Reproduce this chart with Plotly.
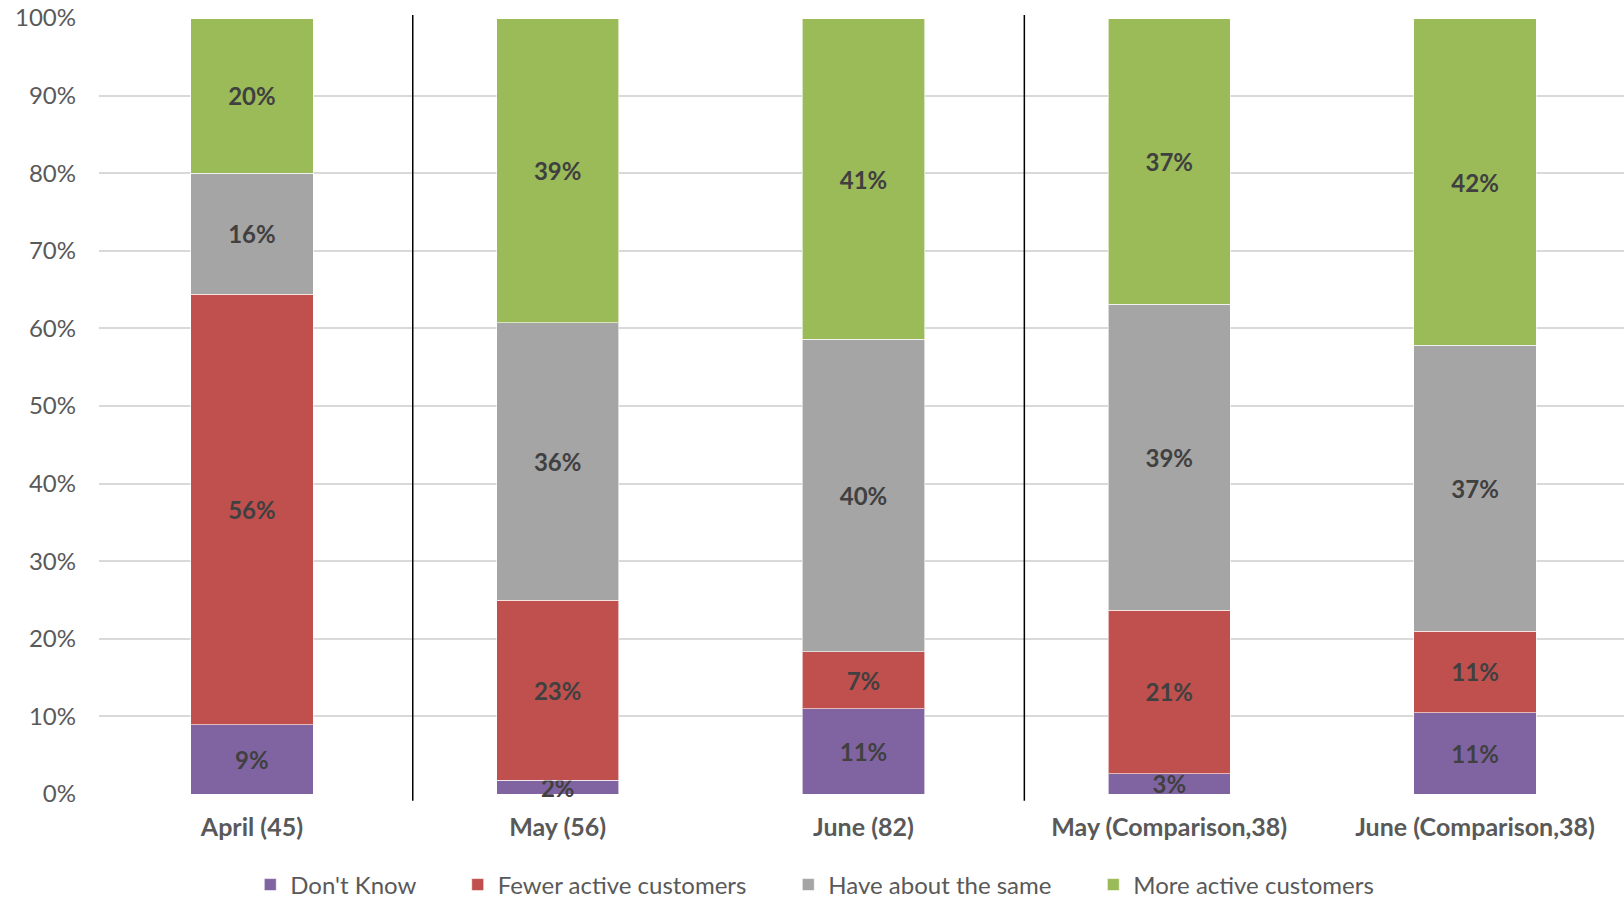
import plotly.graph_objects as go

categories = ["April (45)", "May (56)", "June (82)", "May (Comparison,38)", "June (Comparison,38)"]
series_names = ["Don't Know", "Fewer active customers", "Have about the same", "More active customers"]
dont_know = [8.9, 1.8, 11.0, 2.6, 10.5]
fewer = [55.5, 23.2, 7.3, 21.1, 10.5]
same = [15.6, 35.7, 40.3, 39.4, 36.8]
more = [19.9, 39.2, 41.3, 36.8, 42.1]
tick_vals = [0, 10, 20, 30, 40, 50, 60, 70, 80, 90, 100]
tick_text = ["0%", "10%", "20%", "30%", "40%", "50%", "60%", "70%", "80%", "90%", "100%"]
separator_after = [0, 2]

colors = ["#8064A2", "#C0504D", "#A5A5A5", "#9BBB59"]
FONT = "Lato"
NBSP = "\u00a0"

fig = go.Figure()
for name, vals, col in zip(series_names, [dont_know, fewer, same, more], colors):
    fig.add_trace(go.Bar(
        x=list(range(len(categories))), y=vals, name=name + NBSP * 6,
        marker=dict(color=col, line=dict(color="rgba(255,255,255,0.6)", width=1)),
        width=0.4,
        text=[f"{int(v + 0.5)}%" for v in vals],
        textposition="inside", insidetextanchor="middle",
        textangle=0, constraintext="none", cliponaxis=False,
        textfont=dict(family=FONT, size=24, color="#404040", weight="bold"),
    ))

shapes = []
for i in separator_after:
    shapes.append(dict(type="line", xref="x", yref="paper",
                       x0=i + 0.526, x1=i + 0.526, y0=-0.0086, y1=1.004,
                       line=dict(color="#000000", width=1.5), layer="above"))

fig.update_layout(
    barmode="stack",
    width=1624, height=899,
    margin=dict(l=99, r=0, t=18, b=105, autoexpand=False),
    plot_bgcolor="white", paper_bgcolor="white",
    uniformtext=dict(mode="show", minsize=24),
    shapes=shapes,
    showlegend=True,
    legend=dict(orientation="h", xref="container", yref="container",
                x=0.5131, xanchor="center", y=0.0156, yanchor="middle",
                font=dict(family=FONT, size=24, color="#595959"),
                traceorder="normal", itemwidth=30),
    xaxis=dict(range=[-0.5, 4.487], tickmode="array", automargin=False,
               tickvals=list(range(len(categories))), ticktext=categories,
               showgrid=False, zeroline=False, showline=False, ticks="",
               ticklabelstandoff=16,
               tickfont=dict(family=FONT, size=25, color="#595959", weight="bold")),
    yaxis=dict(range=[0, 100], tickmode="array", tickvals=tick_vals, ticktext=tick_text,
               automargin=False,
               showgrid=True, gridcolor="#D9D9D9", gridwidth=1.5,
               zeroline=False, showline=False, ticks="",
               ticklabelstandoff=22, ticklabeloverflow="allow",
               tickfont=dict(family=FONT, size=24, color="#595959")),
)

fig.write_html("out.html", config={"displayModeBar": False},
               post_script="document.body.style.margin='0';")
